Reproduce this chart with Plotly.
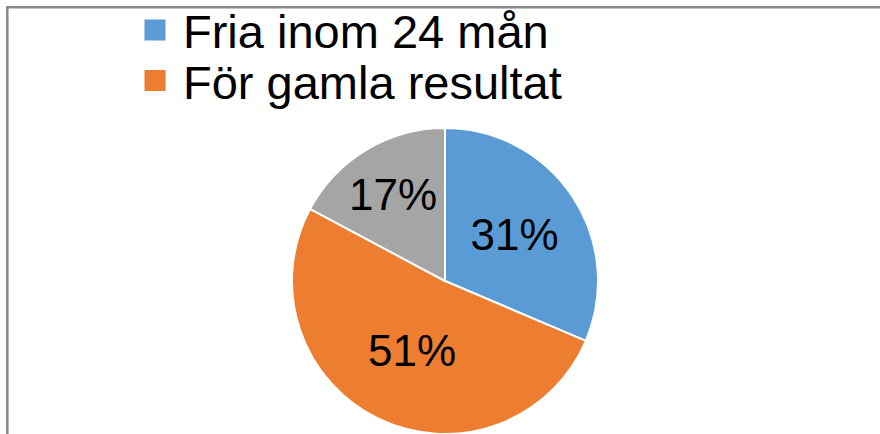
import plotly.graph_objects as go

categories = ["Fria inom 24 mån", "För gamla resultat", "Övriga"]
values = [31.4, 51.4, 17.2]
colors = ["#5B9BD5", "#ED7D31", "#A5A5A5"]
legend_categories = ["Fria inom 24 mån", "För gamla resultat"]

W, H = 880, 434
FONT = "Liberation Sans, Arial, sans-serif"

fig = go.Figure()

fig.add_trace(go.Pie(
    labels=categories,
    values=values,
    sort=False,
    direction="clockwise",
    rotation=0,
    marker=dict(colors=colors, line=dict(color="white", width=2)),
    texttemplate="%{percent:.0%}",
    textposition="inside",
    insidetextorientation="horizontal",
    textfont=dict(family=FONT, size=44, color="black"),
    showlegend=False,
    hoverinfo="label+percent",
    domain=dict(x=[292 / W, 598 / W], y=[0, (H - 128) / H]),
))

legend_ids = ["legend", "legend2"]
legend_centers_y = [30.5, 81]
for name, col, lid in zip(legend_categories, colors, legend_ids):
    fig.add_trace(go.Scatter(
        x=[None], y=[None], mode="markers", name=name,
        marker=dict(symbol="square", size=16, color=col,
                    line=dict(color=col, width=5)),
        showlegend=True, legend=lid,
    ))

fig.add_shape(type="rect", xref="paper", yref="paper",
              x0=7.3 / W, x1=1.2, y0=-0.3, y1=(H - 7.3) / H,
              line=dict(color="#898989", width=2.5), layer="below")

legend_style = dict(
    font=dict(family=FONT, size=47, color="black"),
    bgcolor="rgba(0,0,0,0)", borderwidth=0,
    itemwidth=46, xanchor="left", yanchor="middle",
)

fig.update_layout(
    width=W, height=H,
    margin=dict(l=0, r=0, t=0, b=0, autoexpand=False),
    paper_bgcolor="white", plot_bgcolor="white",
    xaxis=dict(visible=False), yaxis=dict(visible=False),
    legend=dict(x=127 / W, y=(H - legend_centers_y[0]) / H, **legend_style),
    legend2=dict(x=127 / W, y=(H - legend_centers_y[1]) / H, **legend_style),
    font=dict(family=FONT),
)

fig.write_html("out.html", config={"displayModeBar": False},
               post_script="document.body.style.margin='0';")
